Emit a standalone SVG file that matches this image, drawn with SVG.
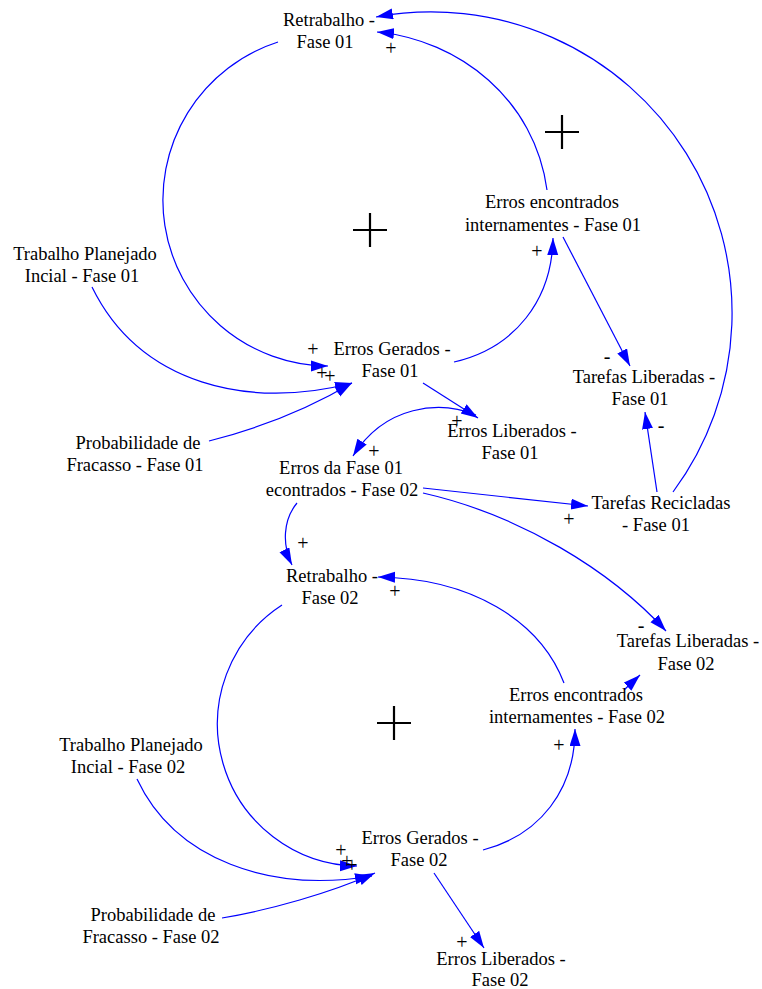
<svg xmlns="http://www.w3.org/2000/svg" width="762" height="989" viewBox="0 0 762 989">
<defs>
<marker id="ah" markerUnits="userSpaceOnUse" markerWidth="18" markerHeight="12" refX="17" refY="5.5" orient="auto">
<path d="M0,0 L17,5.5 L0,11 Z" fill="#0000ff"/>
</marker>
<style>
text{font-family:"Liberation Serif","Times New Roman",serif;font-size:18.5px;fill:#000;text-anchor:middle}
.lnk{fill:none;stroke:#0000ff;stroke-width:1.2;marker-end:url(#ah)}
.pol{font-size:20px}
.loop{stroke:#000;stroke-width:2.2;fill:none}
</style>
</defs>
<rect width="762" height="989" fill="#fff"/>

<g id="connectors">
<path class="lnk" d="M278 42 A166 166 0 0 0 328 366"/>
<path class="lnk" d="M454 362 C515 348 552 300 553 238"/>
<path class="lnk" d="M547 190 C535 100 460 40 377 32"/>
<path class="lnk" d="M563 237 L630 366"/>
<path class="lnk" d="M673 492 A301 301 0 0 0 376 17"/>
<path class="lnk" d="M657 492 L645 412"/>
<path class="lnk" d="M92 287 C140 385 250 410 352 383"/>
<path class="lnk" d="M209 441 C260 428 310 408 352 383"/>
<path class="lnk" d="M423 383 L478 418"/>
<path class="lnk" d="M476 415 C440 400 385 405 353 456"/>
<path class="lnk" d="M423 488 L588 506"/>
<path class="lnk" d="M423 493 C520 515 610 570 666 631"/>
<path class="lnk" d="M297 503 C283 520 282 545 292 565"/>
<path class="lnk" d="M282 605 A142 142 0 0 0 357 866"/>
<path class="lnk" d="M137 779 C175 860 270 893 372 876"/>
<path class="lnk" d="M222 918 C270 910 330 893 375 873"/>
<path class="lnk" d="M483 850 C540 835 575 790 575 729"/>
<path class="lnk" d="M564 683 C540 620 470 578 378 577"/>
<path class="lnk" d="M624 690 L640 675"/>
<path class="lnk" d="M434 873 L484 948"/>
</g>

<g id="polarities">
<text class="pol" x="391" y="55">+</text>
<text class="pol" x="537" y="258">+</text>
<text class="pol" x="607" y="363">-</text>
<text class="pol" x="313" y="356">+</text>
<text class="pol" x="322" y="380">+</text>
<text class="pol" x="330" y="383">+</text>
<text class="pol" x="457" y="428">+</text>
<text class="pol" x="374" y="458">+</text>
<text class="pol" x="661" y="432">-</text>
<text class="pol" x="569" y="526">+</text>
<text class="pol" x="303" y="550">+</text>
<text class="pol" x="641" y="632">-</text>
<text class="pol" x="395" y="598">+</text>
<text class="pol" x="559" y="752">+</text>
<text class="pol" x="341" y="857">+</text>
<text class="pol" x="347" y="868">+</text>
<text class="pol" x="352" y="872">+</text>
<text class="pol" x="462" y="949">+</text>
</g>

<g id="loops">
<path class="loop" d="M353 230 H387 M370 213 V247"/>
<path class="loop" d="M545 132 H579 M562 115 V149"/>
<path class="loop" d="M377 723 H411 M394 706 V740"/>
</g>

<g id="retrabalho-f01"><text><tspan x="329" y="26">Retrabalho -</tspan><tspan x="325" y="48">Fase 01</tspan></text></g>
<g id="erros-encontrados-f01"><text><tspan x="552" y="208">Erros encontrados</tspan><tspan x="553" y="231">internamentes - Fase 01</tspan></text></g>
<g id="trabalho-planejado-f01"><text><tspan x="85" y="260">Trabalho Planejado</tspan><tspan x="82" y="282">Incial - Fase 01</tspan></text></g>
<g id="erros-gerados-f01"><text><tspan x="392" y="355">Erros Gerados -</tspan><tspan x="390" y="377">Fase 01</tspan></text></g>
<g id="probabilidade-f01"><text><tspan x="138" y="449">Probabilidade de</tspan><tspan x="135" y="471">Fracasso - Fase 01</tspan></text></g>
<g id="erros-liberados-f01"><text><tspan x="512" y="437">Erros Liberados -</tspan><tspan x="510" y="459">Fase 01</tspan></text></g>
<g id="erros-fase01-encontrados-f02"><text><tspan x="341" y="474">Erros da Fase 01</tspan><tspan x="342" y="496">econtrados - Fase 02</tspan></text></g>
<g id="tarefas-liberadas-f01"><text><tspan x="644" y="383">Tarefas Liberadas -</tspan><tspan x="640" y="405">Fase 01</tspan></text></g>
<g id="tarefas-recicladas-f01"><text><tspan x="661" y="509">Tarefas Recicladas</tspan><tspan x="656" y="531">- Fase 01</tspan></text></g>
<g id="retrabalho-f02"><text><tspan x="332" y="582">Retrabalho -</tspan><tspan x="330" y="604">Fase 02</tspan></text></g>
<g id="tarefas-liberadas-f02"><text><tspan x="688" y="647">Tarefas Liberadas -</tspan><tspan x="686" y="670">Fase 02</tspan></text></g>
<g id="erros-encontrados-f02"><text><tspan x="576" y="701">Erros encontrados</tspan><tspan x="577" y="723">internamentes - Fase 02</tspan></text></g>
<g id="trabalho-planejado-f02"><text><tspan x="131" y="751">Trabalho Planejado</tspan><tspan x="128" y="773">Incial - Fase 02</tspan></text></g>
<g id="erros-gerados-f02"><text><tspan x="420" y="844">Erros Gerados -</tspan><tspan x="419" y="866">Fase 02</tspan></text></g>
<g id="probabilidade-f02"><text><tspan x="153" y="921">Probabilidade de</tspan><tspan x="151" y="943">Fracasso - Fase 02</tspan></text></g>
<g id="erros-liberados-f02"><text><tspan x="501" y="965">Erros Liberados -</tspan><tspan x="500" y="986">Fase 02</tspan></text></g>
</svg>
